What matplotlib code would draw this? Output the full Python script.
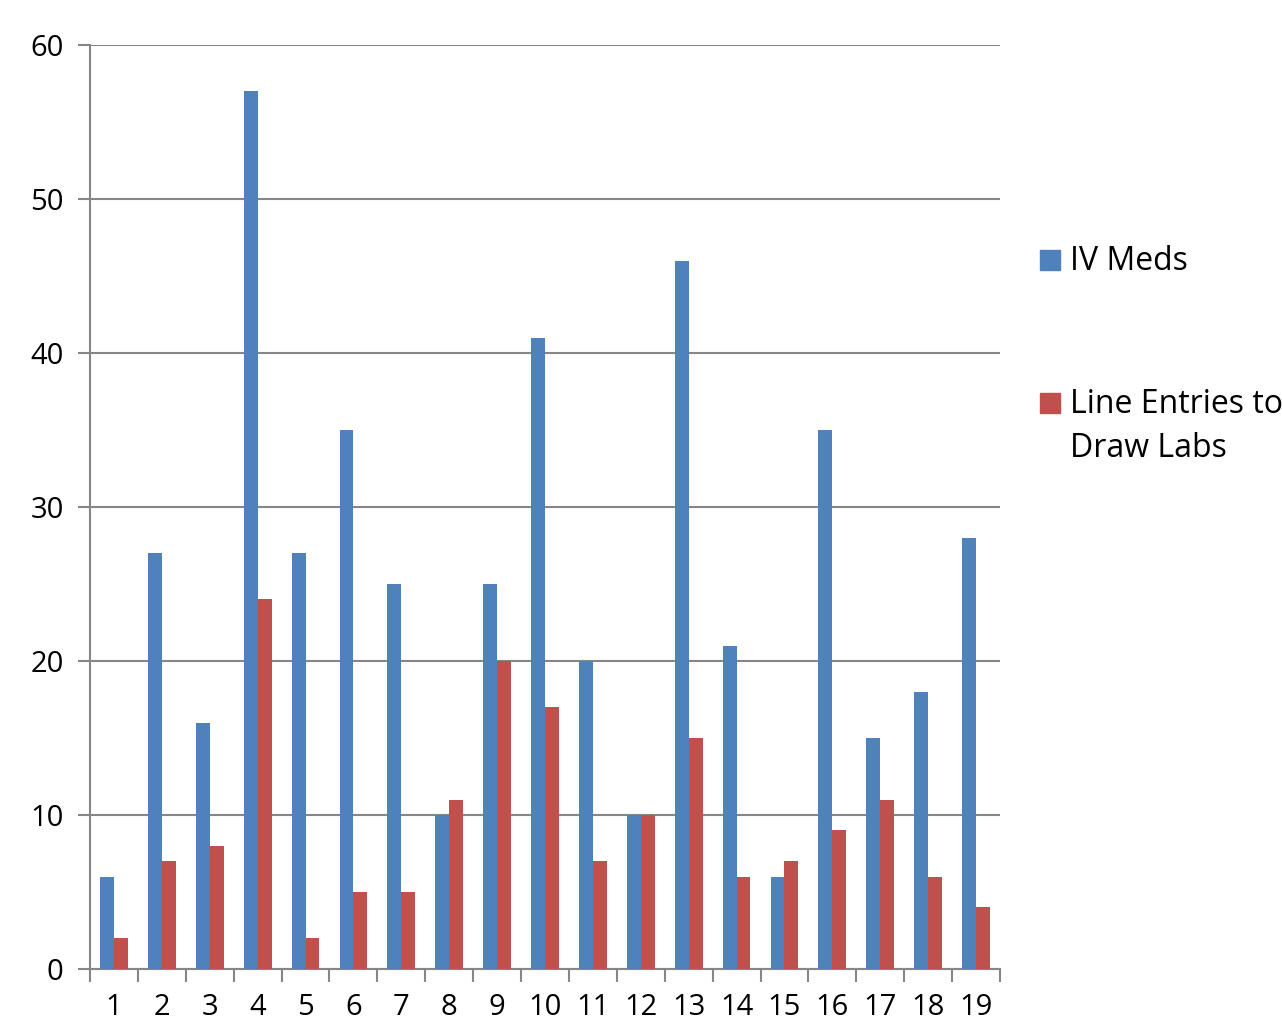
import numpy as np
import matplotlib.pyplot as plt
from matplotlib.patches import Rectangle

categories = [str(i) for i in range(1, 20)]
series_names = ['IV Meds', 'Line Entries to\nDraw Labs']
iv_meds = [6, 27, 16, 57, 27, 35, 25, 10, 25, 41, 20, 10, 46, 21, 6, 35, 15, 18, 28]
line_entries = [2, 7, 8, 24, 2, 5, 5, 11, 20, 17, 7, 10, 15, 6, 7, 9, 11, 6, 4]

plt.rcParams['font.family'] = ['Open Sans', 'DejaVu Sans']

fig = plt.figure(figsize=(12.82, 10.25), dpi=100)
ax = fig.add_axes([90 / 1282, 56 / 1025, 910 / 1282, 924 / 1025])

x = np.arange(1, len(categories) + 1)
w = 0.29
grid_c = '#868686'
colors = ['#4f81bd', '#c0504d']
ax.bar(x - w / 2, iv_meds, w, color=colors[0], zorder=3)
ax.bar(x + w / 2, line_entries, w, color=colors[1], zorder=3)

ax.set_xlim(0.5, len(categories) + 0.5)
ax.set_ylim(0, 60)
ax.set_yticks(range(0, 61, 10))
ax.yaxis.grid(True, color=grid_c, linewidth=1.5, zorder=0)
ax.set_xticks(x)
ax.set_xticklabels(categories)
ax.set_xticks(np.arange(0.5, len(categories) + 1, 1), minor=True)
ax.tick_params(axis='x', which='major', length=0, pad=17, labelsize=21)
ax.tick_params(axis='x', which='minor', length=9, width=1.5, color=grid_c, direction='out')
ax.tick_params(axis='y', length=9, width=1.5, color=grid_c, pad=10, labelsize=21)
for s in ['top', 'right']:
    ax.spines[s].set_visible(False)
for s in ['left', 'bottom']:
    ax.spines[s].set_color(grid_c)
    ax.spines[s].set_linewidth(1.5)

# legend drawn by hand: square + text, first line aligned with square
legend_y = [260, 403]
for name, c, yy in zip(series_names, colors, legend_y):
    fig.patches.append(Rectangle((1040 / 1282, 1 - (yy + 10) / 1025), 20 / 1282, 20 / 1025,
                                 transform=fig.transFigure, color=c))
    fig.text(1070 / 1282, 1 - (yy - 15) / 1025, name, fontsize=23, va='top', ha='left',
             linespacing=1.45)

fig.savefig('out.png', dpi=100)
